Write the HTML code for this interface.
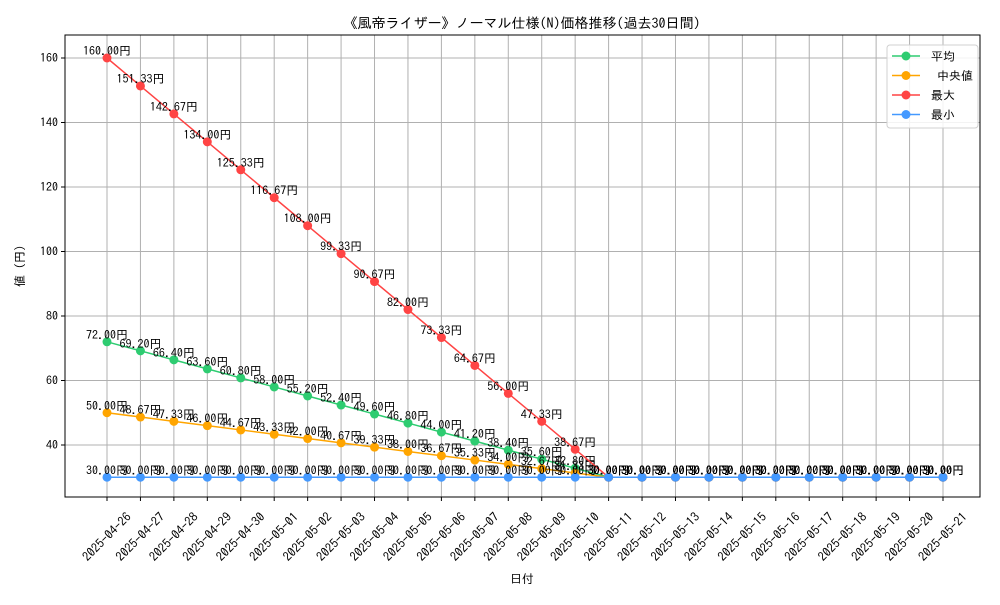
<!DOCTYPE html>
<html><head><meta charset="utf-8"><style>
body{margin:0;background:#fff}
svg text{font-family:"IPAGothic","Noto Sans CJK JP",sans-serif}
</style></head><body>
<svg id="c" width="1000" height="600" xmlns="http://www.w3.org/2000/svg">
<rect width="1000" height="600" fill="#fff"/>
<text x="522" y="28" text-anchor="middle" font-size="14">《風帝ライザー》ノーマル仕様(N)価格推移(過去30日間)</text>
<g id="grid"></g>
<g id="series"></g>
<rect x="65" y="35" width="915" height="462" fill="none" stroke="#000" stroke-width="1"/>
<text x="522" y="583" text-anchor="middle" font-size="12">日付</text>
<text x="24" y="266" text-anchor="middle" font-size="12" transform="rotate(-90 24 266)">値 (円)</text>
<g id="legend"></g>
</svg>
<script>
const dates=["2025-04-26","2025-04-27","2025-04-28","2025-04-29","2025-04-30","2025-05-01","2025-05-02","2025-05-03","2025-05-04","2025-05-05","2025-05-06","2025-05-07","2025-05-08","2025-05-09","2025-05-10","2025-05-11","2025-05-12","2025-05-13","2025-05-14","2025-05-15","2025-05-16","2025-05-17","2025-05-18","2025-05-19","2025-05-20","2025-05-21"];
const avgVals=[72,69.2,66.4,63.6,60.8,58,55.2,52.4,49.6,46.8,44,41.2,38.4,35.6,32.8,30,30,30,30,30,30,30,30,30,30,30];
const medVals=[50,48.67,47.33,46,44.67,43.33,42,40.67,39.33,38,36.67,35.33,34,32.67,31.33,30,30,30,30,30,30,30,30,30,30,30];
const maxVals=[160,151.33,142.67,134,125.33,116.67,108,99.33,90.67,82,73.33,64.67,56,47.33,38.67,30,30,30,30,30,30,30,30,30,30,30];
const minVals=[30,30,30,30,30,30,30,30,30,30,30,30,30,30,30,30,30,30,30,30,30,30,30,30,30,30];
const yTicks=[40,60,80,100,120,140,160];
const seriesNames=["平均"," 中央値","最大","最小"];
const NS="http://www.w3.org/2000/svg";
const xS=i=>107+i*(943-107)/(dates.length-1);
const yS=v=>445-(v-40)*(387/120);
function mk(t,a,p){const e=document.createElementNS(NS,t);for(const k in a)e.setAttribute(k,a[k]);p.appendChild(e);return e;}
const grid=document.getElementById('grid');
dates.forEach((d,i)=>{
 const x=xS(i);
 const l=mk('line',{x1:x,x2:x,y1:35,y2:497,stroke:'#b0b0b0','stroke-width':1},grid);
 
 
 mk('line',{x1:x,x2:x,y1:497,y2:501,stroke:'#000'},grid);
 const t=mk('text',{x:x,y:541,'font-size':12.5,'text-anchor':'middle',transform:`rotate(-45 ${x} 537)`},grid);
 t.textContent=d;
 
 
});
yTicks.forEach(v=>{
 const y=yS(v);
 const l=mk('line',{x1:65,x2:980,y1:y,y2:y,stroke:'#b0b0b0','stroke-width':1},grid);
 
 
 mk('line',{x1:61,x2:65,y1:y,y2:y,stroke:'#000'},grid);
 const t=mk('text',{x:58,y:y+4,'font-size':12,'text-anchor':'end'},grid);
 t.textContent=v;
 
 
});
const colors=["#2ecc71","#ffa500","#ff4444","#4499ff"];
const all=[avgVals,medVals,maxVals,minVals];
const keys=["avg","median","max","min"];
const sg=document.getElementById('series');
all.forEach((vals,s)=>{
 const g=mk('g',{},sg);
 
 
 const pts=vals.map((v,i)=>xS(i)+','+yS(v)).join(' ');
 const pl=mk('polyline',{points:pts,fill:'none',stroke:colors[s],'stroke-width':1.5},g);
 
 
 vals.forEach((v,i)=>{
  const c=mk('circle',{cx:xS(i),cy:yS(v),r:4.5,fill:colors[s]},g);
  
  
 });
 vals.forEach((v,i)=>{
  const t=mk('text',{x:xS(i),y:yS(v)-3,'font-size':12,'text-anchor':'middle'},g);
  t.textContent=v.toFixed(2)+'円';
  
  
 });
});
const lg=document.getElementById('legend');


mk('rect',{x:887,y:45,width:91,height:83,rx:3,fill:'#fff','fill-opacity':0.85,stroke:'#d0d0d0'},lg);
seriesNames.forEach((n,s)=>{
 const y=56+s*19.5;
 const e=mk('g',{},lg);
 
 
 mk('line',{x1:892,x2:920,y1:y,y2:y,stroke:colors[s],'stroke-width':1.5},e);
 mk('circle',{cx:906,cy:y,r:4.5,fill:colors[s]},e);
 const t=mk('text',{x:931,y:y+4.5,'font-size':12},e);
 t.textContent=n;
 t.setAttribute('xml:space','preserve');
 t.style.whiteSpace='pre';
});
</script>
</body></html>
